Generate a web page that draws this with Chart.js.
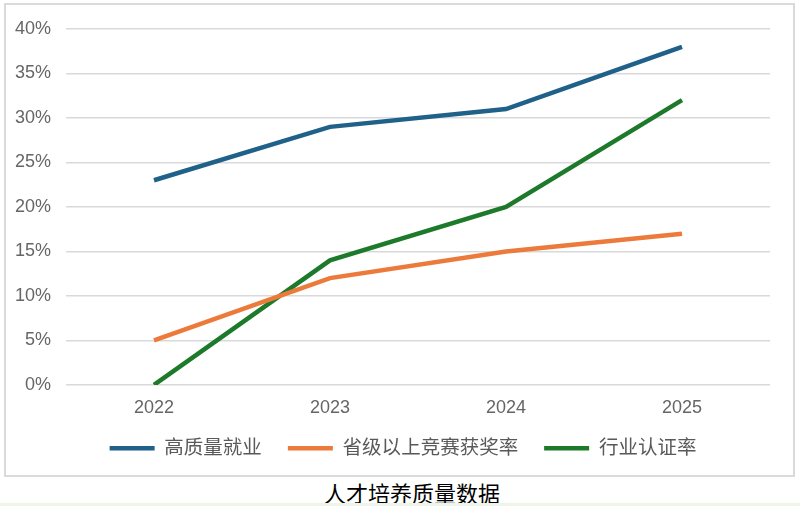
<!DOCTYPE html>
<html>
<head>
<meta charset="utf-8">
<script src="https://cdn.jsdelivr.net/npm/chart.js@4"></script>
<style>
  html, body { margin: 0; padding: 0; background: #fff; width: 800px; height: 506px; overflow: hidden; }
  #box { position: absolute; left: 4px; top: 3px; width: 787px; height: 470px; border: 2px solid #dadada; }
  #caption { position: absolute; left: 0; width: 824px; top: 476px; text-align: center; font-family: serif, "Noto Sans CJK SC"; font-size: 22px; color: #000; }
  #strip { position: absolute; left: 0; top: 503px; width: 800px; height: 3px; background: #eef5e8; }
</style>
</head>
<body>
<div id="box"><canvas id="myChart" width="787" height="470"></canvas></div>
<div id="caption">人才培养质量数据</div>
<div id="strip"></div>
<script>
// 人才培养质量数据 - line chart

var years = ["2022", "2023", "2024", "2025"];
var employment = [23, 29, 31, 38];
var contestAwards = [5, 12, 15, 17];
var certification = [0, 14, 20, 32];
var seriesNames = ["高质量就业", "省级以上竞赛获奖率", "行业认证率"];

Chart.defaults.font.family = '"Liberation Sans", "Noto Sans CJK SC", sans-serif';
Chart.defaults.color = "#666666";

// legend sits closer to the axis than chart.js puts it by default
var legendNudge = {
	id: "legendNudge",
	beforeLayout: function (chart) {
		var lg = chart.legend;
		if (lg && !lg._nudged) {
			var fit = lg.fit;
			lg.fit = function () {
				fit.call(this);
				this.height -= 3;
			};
			lg._nudged = true;
		}
	},
	afterLayout: function (chart) {
		var lg = chart.legend;
		lg.top -= 10;
		lg.bottom -= 10;
		lg.left += 15;
		lg.right += 15;
	},
};

var ctx = document.getElementById("myChart");
var qualityChart = new Chart(ctx, {
	type: "line",
	data: {
		labels: years,
		datasets: [
			{
				label: seriesNames[0],
				data: employment,
				borderColor: "#1f6188",
				backgroundColor: "#1f6188",
				borderWidth: 4.5,
				pointRadius: 0,
				tension: 0,
			},
			{
				label: seriesNames[1],
				data: contestAwards,
				borderColor: "#ec7b3b",
				backgroundColor: "#ec7b3b",
				borderWidth: 4.5,
				pointRadius: 0,
				tension: 0,
			},
			{
				label: seriesNames[2],
				data: certification,
				borderColor: "#1e7a2b",
				backgroundColor: "#1e7a2b",
				borderWidth: 4.5,
				pointRadius: 0,
				tension: 0,
			},
		],
	},
	options: {
		responsive: false,
		animation: false,
		layout: {
			padding: { top: 24, right: 23, bottom: 0, left: 0 },
		},
		scales: {
			x: {
				offset: true,
				grid: { display: false },
				border: { display: false },
				ticks: { padding: 4, font: { size: 18 }, color: "#666666" },
			},
			y: {
				min: 0,
				max: 40,
				grid: { color: "#d9d9d9", lineWidth: 1.5, drawTicks: false },
				border: { display: false },
				ticks: {
					stepSize: 5,
					padding: 15,
					font: { family: '"Liberation Sans Narrow", "Liberation Sans", sans-serif', size: 18 },
					color: "#666666",
					callback: function (v) {
						return v + "%";
					},
				},
				afterFit: function (scale) {
					scale.width = 60;
					scale.paddingTop = 0;
				},
			},
		},
		plugins: {
			legend: {
				position: "bottom",
				labels: {
					usePointStyle: true,
					pointStyle: "line",
					pointStyleWidth: 45,
					padding: 26,
					color: "#595959",
					font: { size: 19.5 },
				},
			},
			tooltip: { enabled: false },
		},
	},
	plugins: [legendNudge],
});
</script>
</body>
</html>
